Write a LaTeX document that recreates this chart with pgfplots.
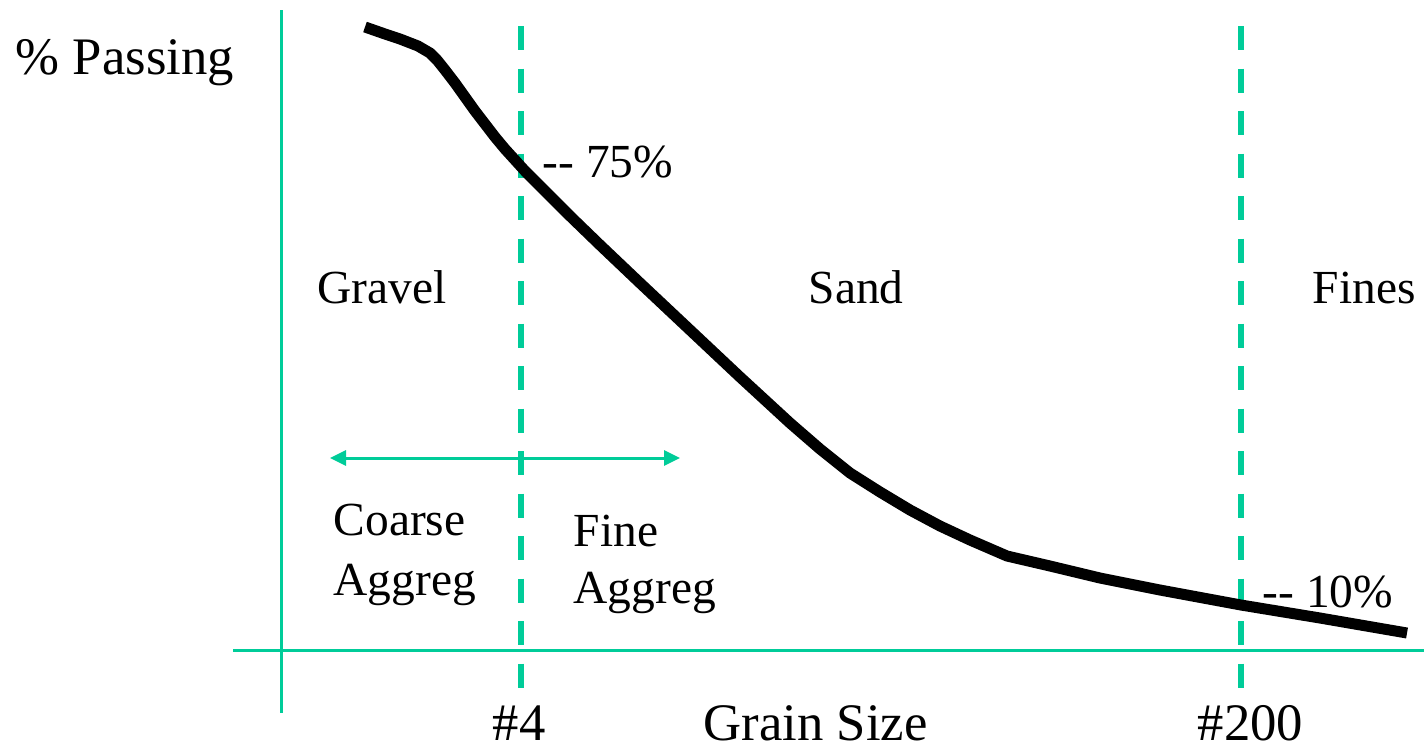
\documentclass[border=0pt]{standalone}
\usepackage{fontspec}
\setmainfont{Liberation Serif}
\usepackage{pgfplots}
\pgfplotsset{compat=1.18}
\usetikzlibrary{arrows.meta}
\definecolor{gline}{HTML}{00CC99}
\begin{document}
\begin{tikzpicture}
\begin{axis}[
  scale only axis, width=14.24cm, height=7.47cm,
  xmin=0, xmax=1424, ymin=0, ymax=747, y dir=reverse,
  axis line style={draw=none}, ticks=none, clip=false,
]
% frame lines
\addplot[gline, line width=0.3mm] coordinates {(281,10) (281,713)};
\addplot[gline, line width=0.3mm] coordinates {(233,650) (1424,650)};
% sieve boundaries
\addplot[gline, line width=0.6mm, dash pattern=on 2.4mm off 1.85mm] coordinates {(521,26) (521,688)};
\addplot[gline, line width=0.6mm, dash pattern=on 2.4mm off 1.85mm] coordinates {(1241,26) (1241,688)};
% aggregate arrow
\addplot[gline, line width=0.3mm, {Triangle[length=1.6mm,width=1.5mm]}-{Triangle[length=1.6mm,width=1.5mm]}] coordinates {(330,458) (680,458)};
% gradation curve
\addplot[black, line width=1.1mm, line join=round] coordinates {
(365,27) (385,34) (400,39) (418,46) (430,53) (437,60) (445,70) (455,83) (465,97)
(475,111) (485,124) (495,137) (505,149) (515,160) (525,171) (535,181) (550,196)
(570,216) (600,245) (640,283) (690,330) (740,377) (790,423) (820,449) (850,473)
(880,492) (910,510) (940,526) (970,540) (1007,556) (1050,566) (1100,578)
(1160,590) (1241,605) (1320,618) (1407,633)};
% labels
\node[anchor=base west, inner sep=0, font=\fontsize{15}{18}\selectfont] at (axis cs:15,74) {\% Passing};
\begin{scope}[every node/.style={anchor=base west, inner sep=0, font=\fontsize{13.5}{16}\selectfont}]
\node at (axis cs:542,177) {-{}- 75\%};
\node at (axis cs:317,303) {Gravel};
\node at (axis cs:808,303) {Sand};
\node at (axis cs:1312,303) {Fines};
\node at (axis cs:333,535) {Coarse};
\node at (axis cs:333,595) {Aggreg};
\node at (axis cs:573,546) {Fine};
\node at (axis cs:573,603) {Aggreg};
\node at (axis cs:1262,607) {-{}- 10\%};
\end{scope}
\begin{scope}[every node/.style={anchor=base west, inner sep=0, font=\fontsize{15}{18}\selectfont}]
\node at (axis cs:492,740) {\#4};
\node at (axis cs:703,740) {Grain Size};
\node at (axis cs:1197,740) {\#200};
\end{scope}
\end{axis}
\pgfresetboundingbox
\path (0,0) rectangle (14.24cm,7.47cm);
\end{tikzpicture}
\end{document}
